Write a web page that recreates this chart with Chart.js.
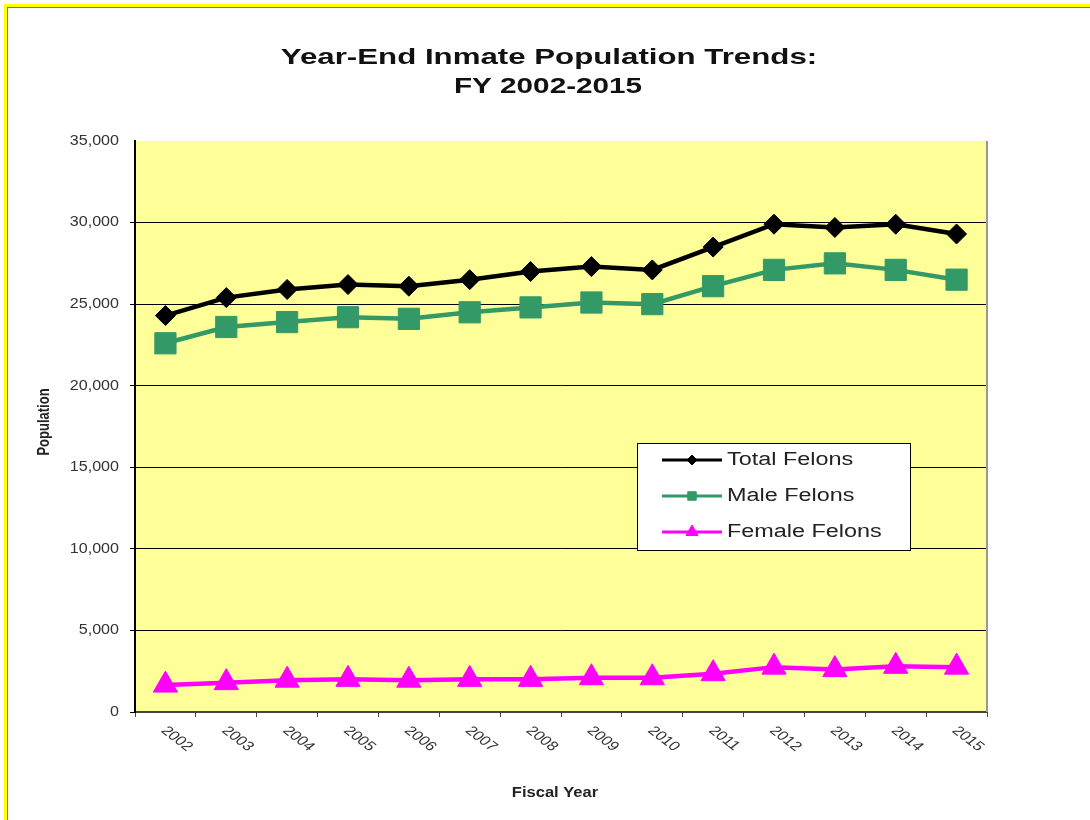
<!DOCTYPE html>
<html>
<head>
<meta charset="utf-8">
<title>Year-End Inmate Population Trends</title>
<script src="https://cdn.jsdelivr.net/npm/chart.js@4/dist/chart.umd.min.js"></script>
<style>
  html, body { margin: 0; padding: 0; background: #fff; }
  #wrap { position: relative; width: 1090px; height: 820px; overflow: hidden; }
  #frame {
    position: absolute; left: 4px; top: 4px; width: 1100px; height: 830px;
    border-left: 3px solid #ffff00; border-top: 3px solid #ffff00;
    box-shadow: inset 1px 1px 0 #777; pointer-events: none;
  }
  canvas { display: block; }
</style>
</head>
<body>
<div id="wrap">
  <canvas id="chart" width="1090" height="820"></canvas>
  <div id="frame"></div>
</div>
<script>
const years = ["2002", "2003", "2004", "2005", "2006", "2007", "2008",
               "2009", "2010", "2011", "2012", "2013", "2014", "2015"];
const totalFelons = [24300, 25400, 25900, 26200, 26100, 26500, 27000,
                     27300, 27100, 28500, 29900, 29700, 29900, 29300];
const maleFelons = [22600, 23600, 23900, 24200, 24100, 24500, 24800,
                    25100, 25000, 26100, 27100, 27500, 27100, 26500];
const femaleFelons = [1650, 1800, 1950, 2000, 1950, 2000, 2000,
                      2100, 2100, 2350, 2750, 2600, 2800, 2750];
const yMax = 35000;
const yStep = 5000;

const titleLines = ["Year-End Inmate Population Trends:", "FY 2002-2015"];
const FONT = "'Liberation Sans', Arial, sans-serif";

// the source picture is stretched sideways, so text is drawn widened
function wideText(ctx, text, x, y, font, sx, align, baseline, color) {
  ctx.save();
  ctx.translate(x, y);
  ctx.scale(sx, 1);
  ctx.font = font;
  ctx.textAlign = align;
  ctx.textBaseline = baseline;
  ctx.fillStyle = color;
  ctx.fillText(text, 0, 0);
  ctx.restore();
}

const decor = {
  id: "decor",
  beforeDraw(chart) {
    const { ctx, chartArea: a } = chart;
    ctx.save();
    ctx.fillStyle = "#fff";
    ctx.fillRect(0, 0, chart.width, chart.height);
    ctx.fillStyle = "#ffff99";
    ctx.fillRect(a.left, a.top, a.right - a.left, a.bottom - a.top);
    ctx.restore();
  },
  afterDraw(chart) {
    const { ctx, chartArea: a } = chart;
    const xs = chart.scales.x, ys = chart.scales.y;

    // right border of the plot
    ctx.save();
    ctx.strokeStyle = "#999";
    ctx.lineWidth = 2;
    ctx.beginPath();
    ctx.moveTo(a.right, a.top);
    ctx.lineTo(a.right, a.bottom);
    ctx.stroke();
    ctx.restore();

    // title
    wideText(ctx, titleLines[0], 549, 64, "bold 22px " + FONT, 1.42, "center", "alphabetic", "#111");
    wideText(ctx, titleLines[1], 548, 93, "bold 22px " + FONT, 1.35, "center", "alphabetic", "#111");

    // y tick labels
    ys.ticks.forEach((t) => {
      wideText(ctx, t.label, a.left - 16, ys.getPixelForValue(t.value), "14px " + FONT, 1.15, "right", "middle", "#333");
    });

    // x tick labels, rotated down to the right
    chart.data.labels.forEach((lab, i) => {
      ctx.save();
      ctx.translate(xs.getPixelForValue(i) + 4, a.bottom + 12);
      ctx.scale(1.3, 1);
      ctx.rotate(Math.PI / 4);
      ctx.font = "13px " + FONT;
      ctx.textAlign = "left";
      ctx.textBaseline = "top";
      ctx.fillStyle = "#333";
      ctx.fillText(lab, 0, 0);
      ctx.restore();
    });

    // axis titles
    wideText(ctx, "Fiscal Year", (a.left + a.right) / 2 - 6, 797, "bold 14px " + FONT, 1.18, "center", "alphabetic", "#222");
    ctx.save();
    ctx.translate(45, 422);
    ctx.rotate(-Math.PI / 2);
    ctx.scale(1, 1.25);
    ctx.font = "bold 13px " + FONT;
    ctx.textAlign = "center";
    ctx.textBaseline = "middle";
    ctx.fillStyle = "#222";
    ctx.fillText("Population", 0, 0);
    ctx.restore();

    // legend box
    const bx = 637, by = 443, bw = 273, bh = 107;
    ctx.save();
    ctx.fillStyle = "#fff";
    ctx.fillRect(bx, by, bw, bh);
    ctx.strokeStyle = "#000";
    ctx.lineWidth = 1;
    ctx.strokeRect(bx + 0.5, by + 0.5, bw, bh);
    ctx.restore();
    const legendRadius = [5, 6, 7];
    chart.data.datasets.forEach((ds, i) => {
      const ry = 460 + i * 36;
      ctx.save();
      ctx.strokeStyle = ds.borderColor;
      ctx.lineWidth = 3;
      ctx.beginPath();
      ctx.moveTo(662, ry);
      ctx.lineTo(722, ry);
      ctx.stroke();
      ctx.fillStyle = ds.pointBackgroundColor;
      ctx.strokeStyle = ds.pointBorderColor;
      ctx.lineWidth = 1;
      Chart.helpers.drawPoint(ctx, { pointStyle: ds.pointStyle, radius: legendRadius[i], rotation: 0, borderWidth: 1 }, 692, ry);
      ctx.restore();
      wideText(ctx, ds.label, 727, ry, "18px " + FONT, 1.3, "left", "middle", "#222");
    });
  }
};

new Chart(document.getElementById("chart"), {
  type: "line",
  data: {
    labels: years,
    datasets: [
      {
        label: "Total Felons",
        data: totalFelons,
        borderColor: "#000",
        borderWidth: 4.5,
        pointStyle: "rectRot",
        pointRadius: 10,
        pointBackgroundColor: "#000",
        pointBorderColor: "#000",
        pointBorderWidth: 1,
        order: 1,
      },
      {
        label: "Male Felons",
        data: maleFelons,
        borderColor: "#339966",
        borderWidth: 4.5,
        pointStyle: "rect",
        pointRadius: 15,
        pointBackgroundColor: "#339966",
        pointBorderColor: "#339966",
        pointBorderWidth: 1,
        order: 2,
      },
      {
        label: "Female Felons",
        data: femaleFelons,
        borderColor: "#ff00ff",
        borderWidth: 4.5,
        pointStyle: "triangle",
        pointRadius: 14,
        pointBackgroundColor: "#ff00ff",
        pointBorderColor: "#ff00ff",
        pointBorderWidth: 1,
        order: 3,
      },
    ],
  },
  options: {
    responsive: false,
    devicePixelRatio: 1,
    animation: false,
    layout: { padding: { top: 141, right: 103, bottom: 0, left: 0 } },
    plugins: {
      legend: { display: false },
      title: { display: false },
      tooltip: { enabled: false },
    },
    scales: {
      x: {
        offset: true,
        afterFit: (s) => { s.height = 108; },
        ticks: { display: false },
        grid: { offset: true, drawOnChartArea: false, drawTicks: true, tickLength: 5, color: "#444", lineWidth: 1 },
        border: { color: "#444", width: 2 },
      },
      y: {
        min: 0,
        max: yMax,
        afterFit: (s) => { s.width = 135; },
        ticks: {
          display: false,
          stepSize: yStep,
          callback: (v) => v.toLocaleString("en-US"),
        },
        grid: {
          color: (c) => (c.tick && c.tick.value === yMax ? "rgba(0,0,0,0)" : "#000"),
          lineWidth: 1,
          tickLength: 5,
        },
        border: { color: "#000", width: 2 },
      },
    },
  },
  plugins: [decor],
});
</script>
</body>
</html>
